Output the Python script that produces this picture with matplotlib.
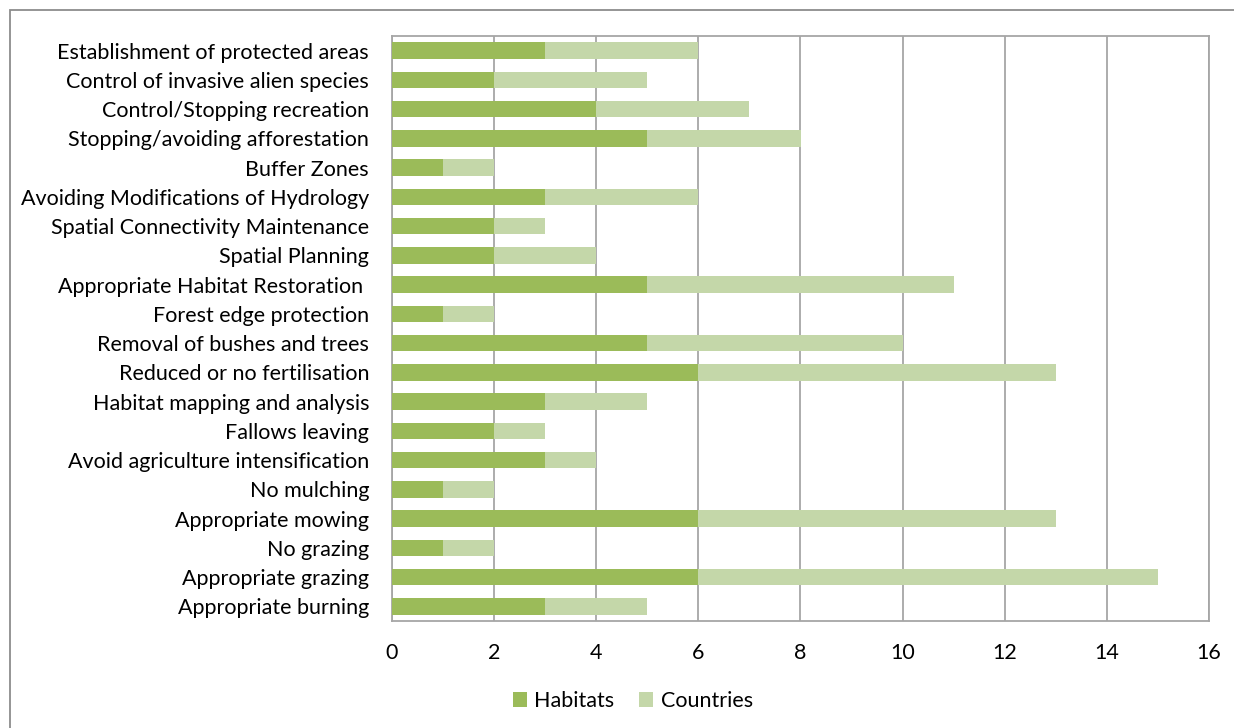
import matplotlib
matplotlib.use("Agg")
import matplotlib.pyplot as plt
import numpy as np
from matplotlib.patches import Rectangle

categories = [
    "Establishment of protected areas",
    "Control of invasive alien species",
    "Control/Stopping recreation",
    "Stopping/avoiding afforestation",
    "Buffer Zones",
    "Avoiding Modifications of Hydrology",
    "Spatial Connectivity Maintenance",
    "Spatial Planning",
    "Appropriate Habitat Restoration ",
    "Forest edge protection",
    "Removal of bushes and trees",
    "Reduced or no fertilisation",
    "Habitat mapping and analysis",
    "Fallows leaving",
    "Avoid agriculture intensification",
    "No mulching",
    "Appropriate mowing",
    "No grazing",
    "Appropriate grazing",
    "Appropriate burning",
]
habitats = [3, 2, 4, 5, 1, 3, 2, 2, 5, 1, 5, 6, 3, 2, 3, 1, 6, 1, 6, 3]
countries = [3, 3, 3, 3, 1, 3, 1, 2, 6, 1, 5, 7, 2, 1, 1, 1, 7, 1, 9, 2]
x_ticks = [0, 2, 4, 6, 8, 10, 12, 14, 16]

C_HAB = "#9BBB59"
C_CTY = "#C4D7A9"
GRID = "#A6A6A6"
FS = 15.5

plt.rcParams["font.family"] = ["Lato", "DejaVu Sans"]

fig = plt.figure(figsize=(12.34, 7.28), dpi=100)
ax = fig.add_axes([392 / 1234, 1 - 621 / 728, (1209 - 392) / 1234, (621 - 36) / 728])

y = np.arange(len(categories))
ax.barh(y, habitats, height=0.56, color=C_HAB, label="Habitats", zorder=3)
ax.barh(y, countries, left=habitats, height=0.56, color=C_CTY, label="Countries", zorder=3)

ax.set_xlim(0, 16)
ax.set_ylim(len(categories) - 0.5, -0.5)
ax.set_xticks(x_ticks)
ax.set_xticklabels([str(t) for t in x_ticks], fontsize=FS)
ax.set_yticks(y)
ax.set_yticklabels(categories, fontsize=FS)
ax.tick_params(axis="both", length=0, colors="#000000")
ax.tick_params(axis="x", pad=16)
ax.tick_params(axis="y", pad=16.5)
ax.grid(axis="x", color=GRID, linewidth=1.3, zorder=1)
for s in ax.spines.values():
    s.set_color(GRID)
    s.set_linewidth(1.3)

ax.legend(loc="center", bbox_to_anchor=(633 / 1234, 1 - 701 / 728),
          bbox_transform=fig.transFigure, ncol=2, frameon=False,
          fontsize=FS, handlelength=0.65, handleheight=0.65,
          handletextpad=0.35, columnspacing=1.15)

# outer chart border
fig.patches.append(Rectangle((10 / 1234, -0.1), 1.2, 1 - 10 / 728 + 0.1,
                             transform=fig.transFigure, fill=False,
                             edgecolor="#8C8C8C", linewidth=1.3))

fig.savefig("out.png", dpi=100)
